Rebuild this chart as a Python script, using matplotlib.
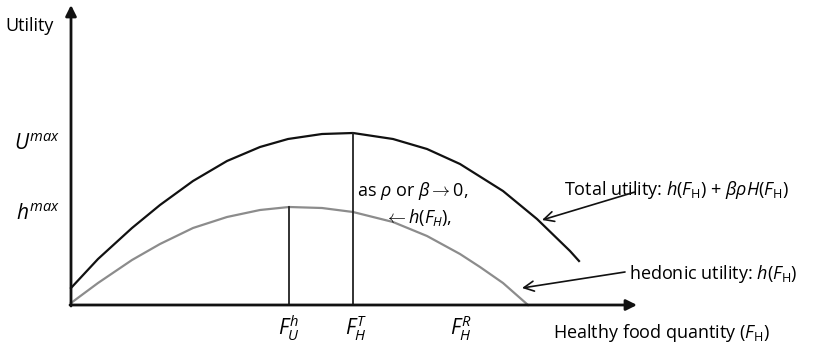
import numpy as np
import matplotlib
matplotlib.use("Agg")
import matplotlib.pyplot as plt

plt.rcParams["font.family"] = ["Open Sans", "DejaVu Sans"]
plt.rcParams["mathtext.fontset"] = "custom"
plt.rcParams["mathtext.rm"] = "Open Sans"
plt.rcParams["mathtext.it"] = "Open Sans:italic"
plt.rcParams["mathtext.bf"] = "Open Sans:bold"

# schematic curves: healthy food quantity vs utility
total_x = [0, 27, 61, 89, 122, 156, 189, 217, 251, 282, 322, 356, 389, 432, 466, 499, 508]
total_y = [17, 46, 77, 100, 124, 144, 158, 166, 171, 172, 166, 156, 141, 114, 86, 54, 44]

hedonic_x = [0, 27, 61, 89, 122, 156, 189, 218, 251, 282, 322, 356, 389, 409, 432, 457]
hedonic_y = [2, 22, 45, 61, 77, 88, 95, 98, 97, 93, 83, 69, 51, 38, 22, 0]

# optimum quantities and maxima
f_hedonic_opt, h_max = 218, 98
f_total_opt, u_max = 282, 172
f_recommended = 390

fig = plt.figure(figsize=(8.23, 3.47), dpi=100)
ax = fig.add_axes([0, 0, 1, 1])
ax.set_xlim(-71, 752)
ax.set_ylim(-42, 305)
ax.axis("off")

# axes with arrow heads
ax.annotate("", xy=(0, 300), xytext=(0, -1),
            arrowprops=dict(arrowstyle="-|>", color="#111111", lw=2,
                            mutation_scale=16, shrinkA=0, shrinkB=0))
ax.annotate("", xy=(566, 0), xytext=(-1, 0),
            arrowprops=dict(arrowstyle="-|>", color="#111111", lw=2,
                            mutation_scale=16, shrinkA=0, shrinkB=0))

ax.plot(total_x, total_y, color="#111111", lw=1.6, solid_joinstyle="round")
ax.plot(hedonic_x, hedonic_y, color="#8c8c8c", lw=1.6, solid_joinstyle="round")

ax.plot([f_hedonic_opt, f_hedonic_opt], [0, h_max], color="#222222", lw=1.3)
ax.plot([f_total_opt, f_total_opt], [0, u_max], color="#222222", lw=1.3)

fs = 13
ax.text(-66, 274, "Utility", fontsize=fs, va="baseline", ha="left")
ax.text(-57, 155, r"$U^{max}$", fontsize=15, va="baseline", ha="left")
ax.text(-55, 85, r"$h^{max}$", fontsize=15, va="baseline", ha="left")

for fx, lab in [(f_hedonic_opt, r"$F_U^h$"), (f_total_opt + 3, r"$F_H^T$"),
                (f_recommended, r"$F_H^R$")]:
    ax.text(fx, -30, lab, fontsize=15, va="baseline", ha="center")
ax.text(482, -33, r"Healthy food quantity ($F_\mathrm{H}$)", fontsize=fs,
        va="baseline", ha="left")

ax.text(286, 109, r"as $\rho$ or $\beta\rightarrow$0,", fontsize=fs,
        va="baseline", ha="left")
ax.text(313, 82, r"$\leftarrow h(F_H)$,", fontsize=fs, va="baseline", ha="left")

ax.text(493, 110, r"Total utility: $h(F_\mathrm{H})$ + $\beta\rho H(F_\mathrm{H})$",
        fontsize=fs, va="baseline", ha="left")
ax.text(558, 26, r"hedonic utility: $h(F_\mathrm{H})$", fontsize=fs,
        va="baseline", ha="left")

ax.annotate("", xy=(471, 85), xytext=(564, 113),
            arrowprops=dict(arrowstyle="->", color="#111111", lw=1.2,
                            mutation_scale=18, shrinkA=0, shrinkB=0))
ax.annotate("", xy=(451, 17), xytext=(554, 33),
            arrowprops=dict(arrowstyle="->", color="#111111", lw=1.2,
                            mutation_scale=18, shrinkA=0, shrinkB=0))

fig.savefig("out.png", dpi=100, facecolor="white")
